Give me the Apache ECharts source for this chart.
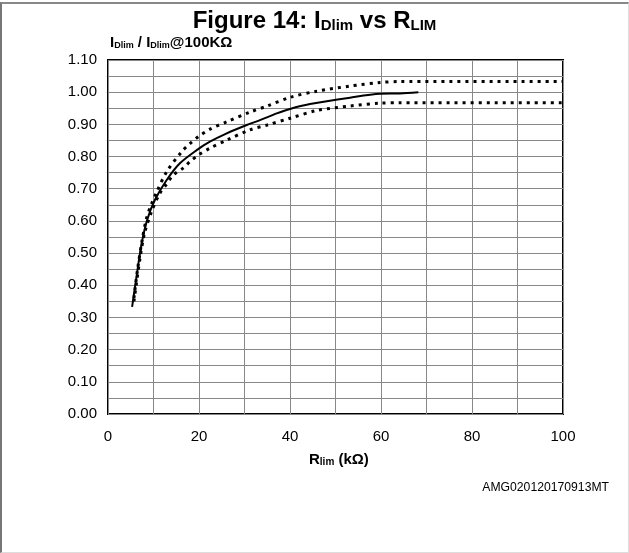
<!DOCTYPE html>
<html>
<head>
<meta charset="utf-8">
<script src="https://cdn.jsdelivr.net/npm/echarts@6/dist/echarts.min.js"></script>
<style>
html,body{margin:0;padding:0;background:#fff;}
#frame{position:absolute;left:0;top:2px;width:626px;height:548px;border-left:2px solid #777;border-top:2px solid #888;border-right:1px solid #ddd;border-bottom:1px solid #ddd;}
#chart{position:absolute;left:0;top:0;width:629px;height:553px;}
</style>
</head>
<body>
<div id="frame"></div>
<div id="chart"></div>
<script>
// R_lim (kΩ) vs normalized I_Dlim
var typicalCurve = [[5.3,0.333],[6.3,0.43],[7.4,0.53],[8.6,0.603],[10.3,0.665],[12.9,0.727],[15.8,0.779],[19.5,0.82],[22.4,0.846],[26.1,0.872],[30.5,0.898],[33.4,0.913],[37.1,0.934],[40,0.948],[44.4,0.963],[53.2,0.983],[59.8,0.995],[64.2,0.996],[68.2,1.0]];
var upperCurve = [[5.7,0.36],[6.5,0.45],[7.5,0.54],[8.5,0.61],[9.5,0.65],[10.7,0.69],[12.9,0.753],[16.2,0.815],[18,0.84],[19.9,0.862],[22.4,0.885],[26.1,0.908],[31.2,0.938],[35,0.957],[40,0.984],[45.9,1.003],[53.2,1.019],[59.8,1.03],[64,1.033],[100,1.033]];
var lowerCurve = [[5.7,0.35],[7,0.48],[8,0.56],[9.6,0.63],[11.4,0.686],[12.9,0.715],[14.4,0.743],[16.6,0.765],[18,0.784],[19.9,0.805],[22.4,0.826],[26.1,0.851],[31.2,0.883],[35,0.898],[40,0.919],[45.9,0.943],[53.2,0.957],[59.8,0.966],[64,0.967],[100,0.967]];
var xTickStep = 10;
var yTickStep = 0.05;

var chart = echarts.init(document.getElementById('chart'));
var font = 'Liberation Sans, Arial, sans-serif';
chart.setOption({
  animation: false,
  textStyle: {fontFamily: font},
  title: [{
    text: '{a|Figure 14: I}{s|Dlim}{a| vs R}{s|LIM}',
    left: 'center', top: 0,
    textStyle: {
      rich: {
        a: {fontSize: 24, fontWeight: 'bold', color: '#000', fontFamily: font, verticalAlign: 'bottom', lineHeight: 28},
        s: {fontSize: 15, fontWeight: 'bold', color: '#000', fontFamily: font, verticalAlign: 'bottom', lineHeight: 22}
      }
    }
  }],
  graphic: [
    {type: 'text', left: 110, top: 35, style: {text: '{a|I}{s|Dlim}{a| / I}{s|Dlim}{a|@100KΩ}', rich: {
      a: {fontSize: 15, fontWeight: 'bold', fill: '#000', fontFamily: font, verticalAlign: 'bottom', lineHeight: 18},
      s: {fontSize: 9, fontWeight: 'bold', fill: '#000', fontFamily: font, verticalAlign: 'bottom', lineHeight: 13}
    }}},
    {type: 'text', left: 309, top: 452, style: {text: '{a|R}{s|lim}{a| (kΩ)}', rich: {
      a: {fontSize: 15, fontWeight: 'bold', fill: '#000', fontFamily: font, verticalAlign: 'bottom', lineHeight: 18},
      s: {fontSize: 10, fontWeight: 'bold', fill: '#000', fontFamily: font, verticalAlign: 'bottom', lineHeight: 14}
    }}},
    {type: 'text', right: 20, top: 482, style: {text: 'AMG020120170913MT', fontSize: 12.2, fill: '#000', fontFamily: font}}
  ],
  grid: {left: 108, right: 66, top: 60, bottom: 139, show: true, borderColor: '#000', borderWidth: 2, backgroundColor: 'transparent'},
  xAxis: {
    type: 'value', min: 0, max: 100, interval: xTickStep,
    axisLine: {show: false}, axisTick: {show: false},
    axisLabel: {fontSize: 15, color: '#000', margin: 15, fontFamily: font,
      formatter: function(v){ return (Math.round(v) % 20 === 0) ? String(Math.round(v)) : ''; }},
    splitLine: {show: true, lineStyle: {color: '#888', width: 1}}
  },
  yAxis: {
    type: 'value', min: 0, max: 1.1, interval: yTickStep,
    axisLine: {show: false}, axisTick: {show: false},
    axisLabel: {fontSize: 15, color: '#000', margin: 11, fontFamily: font,
      formatter: function(v){ var k = Math.round(v*100); return (k % 10 === 0) ? (k/100).toFixed(2) : ''; }},
    splitLine: {show: true, lineStyle: {color: '#888', width: 1}}
  },
  series: [
    {type: 'line', data: typicalCurve, smooth: 0.3, symbol: 'none', lineStyle: {color: '#000', width: 2}, z: 3},
    {type: 'line', data: upperCurve, smooth: 0.3, symbol: 'none', lineStyle: {color: '#000', width: 3, type: [3, 5]}, z: 2},
    {type: 'line', data: lowerCurve, smooth: 0.3, symbol: 'none', lineStyle: {color: '#000', width: 3, type: [3, 5]}, z: 2}
  ]
});
</script>
</body>
</html>
